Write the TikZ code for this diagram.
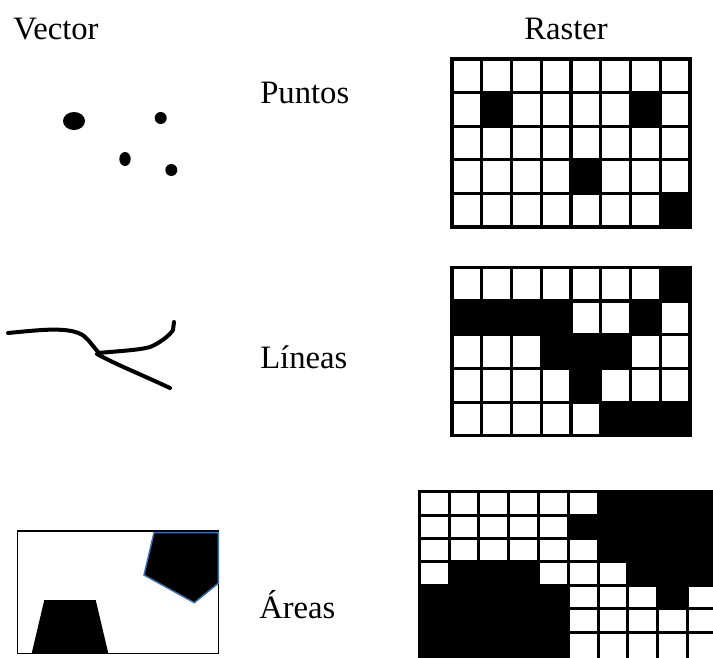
\documentclass[tikz,border=0pt]{standalone}
\usepackage{fontspec}
\setmainfont{Liberation Serif}
\definecolor{outlineblue}{HTML}{3C6EB4}
\usepackage{tikz}
\usetikzlibrary{calc}

\begin{document}
\begin{tikzpicture}[x=0.75pt,y=-0.75pt,
  lbl/.style={anchor=base west,inner sep=0pt,font=\fontsize{24.5}{29}\selectfont},
  gridline/.style={line width=2.3pt,line cap=rect},
  penline/.style={line width=3pt,line cap=round,line join=round}]
  \useasboundingbox (0,0) rectangle (713,657);
  % headers
  \node[lbl] (vec) at (13,39) {Vector};
  \node[lbl] (ras) at (524,39) {Raster};
  \node[lbl] (puntos) at (260,103) {Puntos};
  \node[lbl] (lineas) at (260,368) {Líneas};
  \node[lbl] (areas) at (259,618) {Áreas};
  % vector: points
  \fill (74,121) ellipse (11 and 9);
  \fill (160.7,118) circle (6);
  \fill (125,159) ellipse (5.7 and 7);
  \fill (171.3,170) circle (6);
  % vector: lines
  \draw[penline] (8,333) .. controls (40,330) and (70,326) .. (84,336)
    .. controls (90,341) and (94,348) .. (100,354);
  \draw[penline] (98,353) .. controls (120,351) and (140,350) .. (150,347)
    .. controls (160,343) and (170,335) .. (173,330) -- (174,322);
  \draw[penline] (97,354) .. controls (115,364) and (140,374) .. (170,388);
  % vector: areas
  \draw[line width=1.1pt] (17.7,531) rectangle (218.3,653.3);
  \fill (31.7,653.3) -- (108.3,653.3) -- (95.7,600) -- (44.3,600) -- cycle;
  \filldraw[outlineblue,line width=1.1pt,fill=black] (154,532.7) -- (218.3,532.7)
    -- (218.3,583.3) -- (194.3,602.7) -- (144,575) -- cycle;
  % raster: points
  \foreach \c/\r in {1/1,6/1,4/3,7/4}
    \fill (452+29.75*\c,59+33.6*\r) rectangle ++(29.75,33.6);
  \foreach \c in {0,...,8}
    \draw[gridline] (452+29.75*\c,59) -- ++(0,168);
  \foreach \r in {0,...,5}
    \draw[gridline] (452,59+33.6*\r) -- ++(238,0);
  % raster: lines
  \foreach \c/\r in {7/0,0/1,1/1,2/1,3/1,6/1,3/2,4/2,5/2,4/3,5/4,6/4,7/4}
    \fill (452+29.75*\c,267.3+33.7*\r) rectangle ++(29.75,33.7);
  \foreach \c in {0,...,8}
    \draw[gridline] (452+29.75*\c,267.3) -- ++(0,168.5);
  \foreach \r in {0,...,5}
    \draw[gridline] (452,267.3+33.7*\r) -- ++(238,0);
  % raster: areas
  \begin{scope}
    \clip (0,0) rectangle (713,657);
    \foreach \c/\r in {6/0,7/0,8/0,9/0,5/1,6/1,7/1,8/1,9/1,6/2,7/2,8/2,9/2,
        1/3,2/3,3/3,7/3,8/3,9/3,0/4,1/4,2/4,3/4,4/4,8/4,
        0/5,1/5,2/5,3/5,4/5,0/6,1/6,2/6,3/6,4/6,0/7,1/7,2/7,3/7,4/7}
      \fill (419.3+29.8*\c,491.7+23.4*\r) rectangle ++(29.8,23.4);
    \foreach \c in {0,...,10}
      \draw[gridline] (419.3+29.8*\c,491.7) -- ++(0,180);
    \foreach \r in {0,...,6}
      \draw[gridline] (419.3,491.7+23.4*\r) -- ++(310,0);
  \end{scope}
\end{tikzpicture}
\end{document}
